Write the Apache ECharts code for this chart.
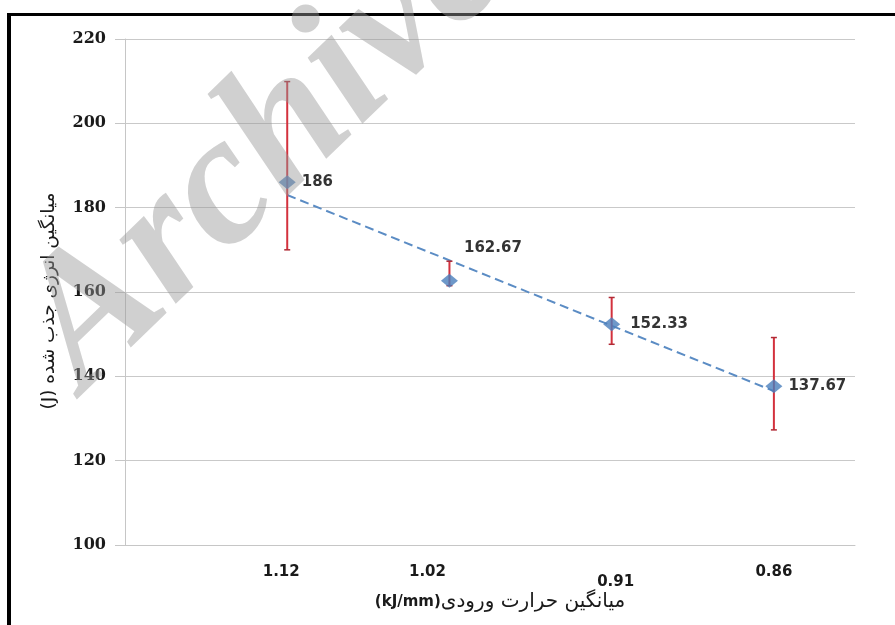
<!DOCTYPE html>
<html>
<head>
<meta charset="utf-8">
<script src="https://cdn.jsdelivr.net/npm/echarts@6/dist/echarts.min.js"></script>
<style>
html,body{margin:0;padding:0;background:#fff;}
#c{width:895px;height:625px;}
</style>
</head>
<body>
<div id="c"></div>
<script>
// ---- data ----
const categories = ['1.12', '1.02', '0.91', '0.86'];      // heat input (kJ/mm)
const categoryIndex = [1, 2, 3, 4];
const energyMean = [186, 162.67, 152.33, 137.67];         // absorbed energy (J)
const errorLow = [170.0, 161.5, 147.6, 127.3];
const errorHigh = [209.9, 167.3, 158.7, 149.2];
const trendIndex = [1, 4];
const trendValues = [183.0, 136.5];
const yTicks = [100, 120, 140, 160, 180, 200, 220];
const xTitleUnit = '(kJ/mm)';
const xTitleText = 'میانگین حرارت ورودی';
const yTitle = '(J) میانگین انرژی جذب شده';

// ---- styling (not data) ----
const labelOffsets = [[0, 0], [0, -33], [4, 0], [0, 0]];
const tickRich = ['t0', 't1', 't2', 't3'];

const chart = echarts.init(document.getElementById('c'), null, {renderer: 'canvas'});

const scatterData = energyMean.map((v, i) => ({
  value: [categoryIndex[i], v],
  label: {offset: labelOffsets[i]}
}));
const errData = energyMean.map((v, i) => [categoryIndex[i], errorLow[i], errorHigh[i]]);
const trendData = trendIndex.map((x, i) => [x, trendValues[i]]);

const tickFont = {fontFamily: 'DejaVu Sans', fontWeight: 'bold', fontSize: 15, color: '#1a1a1a'};

const option = {
  backgroundColor: '#ffffff',
  animation: false,
  grid: {left: 125, right: 40, top: 39, bottom: 80},
  xAxis: {
    type: 'value',
    min: 0, max: 4.5, interval: 1,
    splitLine: {show: false},
    axisTick: {show: false},
    axisLine: {show: true, lineStyle: {color: '#c6c6c6', width: 1}},
    axisLabel: {
      margin: 20,
      showMaxLabel: false,
      formatter: function (v) {
        const i = categoryIndex.indexOf(v);
        if (i < 0) return '';
        return '{' + tickRich[i] + '|' + categories[i] + '}';
      },
      rich: {
        t0: Object.assign({padding: [0, 12, 0, 0]}, tickFont),
        t1: Object.assign({padding: [0, 44, 0, 0]}, tickFont),
        t2: Object.assign({padding: [10, 0, 0, 8]}, tickFont),
        t3: Object.assign({padding: [0, 0, 6, 0]}, tickFont)
      }
    }
  },
  yAxis: {
    type: 'value',
    min: 100, max: 220, interval: 20,
    axisLine: {show: true, lineStyle: {color: '#c6c6c6', width: 1}},
    axisTick: {show: true, length: 10, lineStyle: {color: '#c6c6c6'}},
    splitLine: {show: true, lineStyle: {color: '#c9c9c9', width: 1}},
    axisLabel: {
      margin: 19,
      fontFamily: 'DejaVu Serif', fontWeight: 'bold', fontSize: 16, color: '#1a1a1a',
      formatter: function (v) { return yTicks.indexOf(v) >= 0 ? String(v) : ''; }
    },
    name: yTitle,
    nameLocation: 'middle',
    nameRotate: 90,
    nameGap: 66,
    nameTextStyle: {fontFamily: 'DejaVu Sans', fontSize: 18.5, color: '#1a1a1a', padding: [0, 18, 0, 0]}
  },
  series: [
    {
      type: 'line',
      data: trendData,
      symbol: 'none',
      silent: true,
      lineStyle: {color: '#5b8cc4', width: 2, type: [9, 5]},
      z: 2
    },
    {
      type: 'custom',
      data: errData,
      z: 3,
      renderItem: function (params, api) {
        const x = api.value(0);
        const lo = api.coord([x, api.value(1)]);
        const hi = api.coord([x, api.value(2)]);
        const cap = 3;
        const st = {stroke: '#d3313d', lineWidth: 2};
        return {
          type: 'group',
          children: [
            {type: 'line', shape: {x1: lo[0], y1: lo[1], x2: hi[0], y2: hi[1]}, style: st},
            {type: 'line', shape: {x1: lo[0] - cap, y1: lo[1], x2: lo[0] + cap, y2: lo[1]}, style: {stroke: '#b02a35', lineWidth: 1.5}},
            {type: 'line', shape: {x1: hi[0] - cap, y1: hi[1], x2: hi[0] + cap, y2: hi[1]}, style: {stroke: '#b02a35', lineWidth: 1.5}}
          ]
        };
      }
    },
    {
      type: 'scatter',
      data: scatterData,
      symbol: 'diamond',
      symbolSize: [17, 14],
      itemStyle: {color: '#4a7ebb'},
      z: 4,
      label: {
        show: true,
        position: 'right',
        distance: 6,
        formatter: function (p) { return String(p.value[1]); },
        fontFamily: 'DejaVu Sans', fontWeight: 'bold', fontSize: 15, color: '#000'
      }
    }
  ],
  graphic: [
    {type: 'rect', shape: {x: 7, y: 13, width: 888, height: 3}, style: {fill: '#000'}, z: 50},
    {type: 'rect', shape: {x: 7, y: 13, width: 4, height: 612}, style: {fill: '#000'}, z: 50},
    {
      type: 'text', x: 500, y: 602, z: 20,
      style: {
        text: '{u|' + xTitleUnit + '}{p|' + xTitleText + '}',
        align: 'center', verticalAlign: 'middle',
        rich: {
          u: {fontFamily: 'DejaVu Sans', fontWeight: 'bold', fontSize: 15, fill: '#1a1a1a'},
          p: {fontFamily: 'DejaVu Sans', fontSize: 20, fill: '#1a1a1a'}
        }
      }
    },
    {
      type: 'text', x: 266, y: 150, rotation: 44 * Math.PI / 180, z: 100, silent: true,
      style: {
        text: 'Archive',
        font: 'italic bold 186px "Liberation Serif"',
        fill: 'rgba(150,150,150,0.45)',
        align: 'center', verticalAlign: 'middle'
      }
    }
  ]
};
chart.setOption(option);
</script>
</body>
</html>
